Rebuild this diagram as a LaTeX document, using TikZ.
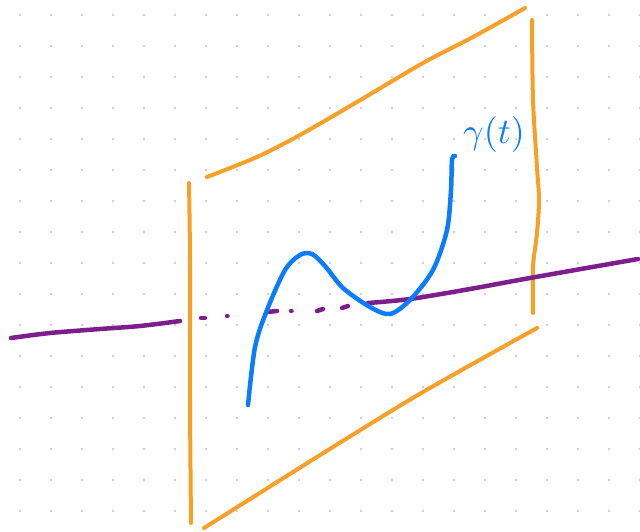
\documentclass[tikz,border=0pt]{standalone}
\usepackage{tikz}

\definecolor{planeorange}{RGB}{247,160,40}
\definecolor{axispurple}{RGB}{125,30,140}
\definecolor{curveblue}{RGB}{10,125,255}
\definecolor{gridgray}{RGB}{205,205,205}

\begin{document}
\begin{tikzpicture}[x=1pt, y=-1pt,
    plane/.style={draw=planeorange, line width=4pt, line cap=round},
    axis/.style={draw=axispurple, line width=4.5pt, line cap=round},
    curve/.style={draw=curveblue, line width=4.5pt, line cap=round}]
    \useasboundingbox (0,0) rectangle (640,532);

    % Dot grid
    \foreach \i in {0,...,20}
        \foreach \j in {0,...,16}
            \fill[gridgray] (20+31*\i, 15+31*\j) circle (1.4);

    % Plane
    \draw[plane] plot[smooth] coordinates {(189,183) (190,260) (190,400) (191,523)};
    \draw[plane] plot[smooth] coordinates {(207,177) (257,157) (300,135) (357,102) (423,63) (473,37) (525,8)};
    \draw[plane] plot[smooth] coordinates {(532,20) (533,100) (537,167) (539,200) (537,233) (533,267) (533,313)};
    \draw[plane] plot[smooth] coordinates {(204,528) (333,447) (423,392) (537,328)};

    % Axis through the plane
    \draw[axis] plot[smooth] coordinates {(11,338) (50,333) (100,329) (140,326) (180,321)};
    \draw[axis] (201,318) -- (205,318);
    \draw[axis] (227,316) -- (227.5,316);
    \draw[axis] (267,312) -- (277,311);
    \draw[axis] (291,311) -- (291.5,311);
    \draw[axis] (317,311) -- (323,309);
    \draw[axis] (342,308) -- (348,306);
    \draw[axis] plot[smooth] coordinates {(368,303) (410,299) (470,289) (530,278) (638,259)};

    % Curve
    \draw[curve] plot[smooth] coordinates {(248,405) (255,347) (267,310) (285,270) (300,255) (312,254) (325,266) (343,288) (370,307) (390,314) (410,300) (433,270) (447,230) (451,190) (452,160) (455,156)};
    \node[text=curveblue, scale=3.6, inner sep=0pt] (gammalabel) at (494,134) {$\gamma(t)$};
\end{tikzpicture}
\end{document}
